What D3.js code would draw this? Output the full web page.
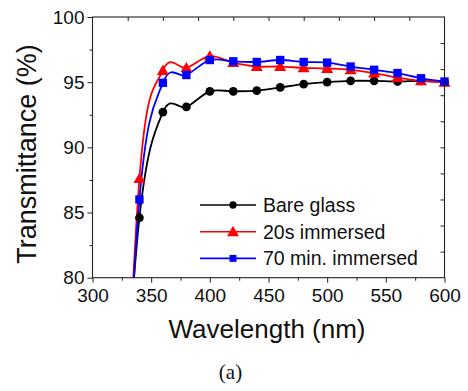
<!DOCTYPE html>
<html>
<head>
<meta charset="utf-8">
<script src="https://cdn.jsdelivr.net/npm/d3@7"></script>
<style>
  body { margin: 0; background: #fff; }
  text { font-family: "Liberation Sans", Arial, sans-serif; fill: #111; }
</style>
</head>
<body>
<div id="main"></div>
<script>
// wavelength (nm); 320 is an off-chart point that only shapes the rising edge
const wavelengths = [320, 340, 360, 380, 400, 420, 440, 460, 480, 500, 520, 540, 560, 580, 600];
const bareGlass  = [59.5, 84.6, 92.7, 93.1, 94.3, 94.3, 94.35, 94.6, 94.85, 95.0, 95.1, 95.1, 95.05, 95.1, 95.0];
const immersed20s = [50.0, 87.6, 95.9, 96.1, 97.0, 96.5, 96.2, 96.2, 96.1, 96.05, 95.95, 95.7, 95.35, 95.1, 95.0];
const immersed70m = [53.3, 86.0, 94.95, 95.55, 96.7, 96.6, 96.55, 96.7, 96.55, 96.5, 96.2, 95.95, 95.7, 95.3, 95.05];

const seriesNames = ["Bare glass", "20s immersed", "70 min. immersed"];
const xTicks = [300, 350, 400, 450, 500, 550, 600];
const yTicks = [80, 85, 90, 95, 100];

const config = {width: 468, height: 391, left: 92.5, right: 23.5, top: 17, bottom: 113.3};
const plotW = config.width - config.left - config.right;
const plotH = config.height - config.top - config.bottom;

const series = [
  {name: seriesNames[0], values: bareGlass, color: "#000000", shape: "circle"},
  {name: seriesNames[1], values: immersed20s, color: "#ff0000", shape: "triangle"},
  {name: seriesNames[2], values: immersed70m, color: "#0000ff", shape: "square"}
];

const svg = d3.select("#main").append("svg")
  .attr("width", config.width)
  .attr("height", config.height);

const g = svg.append("g")
  .attr("transform", `translate(${config.left},${config.top})`);

const xScale = d3.scaleLinear().domain([300, 600]).range([0, plotW]);
const yScale = d3.scaleLinear().domain([80, 100]).range([plotH, 0]);

g.append("clipPath").attr("id", "plotClip")
  .append("rect").attr("width", plotW).attr("height", plotH);

function markerPath(shape, size) {
  if (shape === "circle") return d3.symbol(d3.symbolCircle, size)();
  if (shape === "square") return d3.symbol(d3.symbolSquare, size)();
  return d3.symbol(d3.symbolTriangle, size)();
}

const line = d3.line()
  .x((d, i) => xScale(wavelengths[i]))
  .y(d => yScale(d))
  .curve(d3.curveCardinal.tension(0));

const plot = g.append("g").attr("clip-path", "url(#plotClip)");

series.forEach(s => {
  plot.append("path")
    .datum(s.values)
    .attr("fill", "none")
    .attr("stroke", s.color)
    .attr("stroke-width", 1.8)
    .attr("d", line);
});

series.forEach(s => {
  const pts = s.values.map((v, i) => ({x: wavelengths[i], y: v})).filter(d => d.x >= 340);
  const size = s.shape === "circle" ? 60 : (s.shape === "square" ? 70 : 62);
  g.append("g").selectAll("path")
    .data(pts)
    .join("path")
    .attr("transform", d => `translate(${xScale(d.x)},${yScale(d.y) + (s.shape === "triangle" ? 1 : 0)})`)
    .attr("d", markerPath(s.shape, size))
    .attr("fill", s.color);
});

// frame and ticks
const axisColor = "#222";
g.append("rect")
  .attr("width", plotW).attr("height", plotH)
  .attr("fill", "none").attr("stroke", axisColor).attr("stroke-width", 1.1);

const bottomAxis = d3.axisBottom(xScale).tickValues(xTicks).tickSize(5).tickPadding(6);
const bottomMinor = d3.axisBottom(xScale).tickValues(d3.range(325, 600, 50)).tickSize(3).tickFormat("");
const leftAxis = d3.axisLeft(yScale).tickValues(yTicks).tickSize(5).tickPadding(3);
const leftMinor = d3.axisLeft(yScale).tickValues(d3.range(82.5, 100, 5)).tickSize(3).tickFormat("");
const topAxis = d3.axisTop(xScale).tickValues(d3.range(330, 600, 30)).tickSize(-4).tickFormat("");
const rightAxis = d3.axisRight(yScale).tickValues(d3.range(82, 100, 2)).tickSize(-4).tickFormat("");

function styleAxis(sel) {
  sel.select(".domain").remove();
  sel.selectAll("line").attr("stroke", axisColor).attr("stroke-width", 1);
  sel.selectAll("text")
    .attr("fill", "#111")
    .style("font-family", "'Liberation Sans', Arial, sans-serif")
    .style("font-size", "19px");
}

g.append("g").attr("transform", `translate(0,${plotH})`).call(bottomAxis).call(styleAxis);
g.append("g").attr("transform", `translate(0,${plotH})`).call(bottomMinor).call(styleAxis);
g.append("g").call(leftAxis).call(styleAxis);
g.append("g").call(leftMinor).call(styleAxis);
g.append("g").call(topAxis).call(styleAxis);
g.append("g").attr("transform", `translate(${plotW},0)`).call(rightAxis).call(styleAxis);

// axis titles
svg.append("text")
  .attr("x", 267).attr("y", 338)
  .attr("text-anchor", "middle")
  .style("font-size", "26px")
  .text("Wavelength (nm)");

svg.append("text")
  .attr("transform", "translate(36,154) rotate(-90)")
  .attr("text-anchor", "middle")
  .style("font-size", "27px")
  .text("Transmittance (%)");

svg.append("text")
  .attr("x", 230.5).attr("y", 379)
  .attr("text-anchor", "middle")
  .style("font-family", "'Liberation Serif', 'Times New Roman', serif")
  .style("font-size", "21px")
  .text("(a)");

// legend
const legend = svg.append("g");
series.forEach((s, i) => {
  const y = 205 + i * 26.7;
  legend.append("line")
    .attr("x1", 200).attr("x2", 256).attr("y1", y).attr("y2", y)
    .attr("stroke", s.color).attr("stroke-width", 1.6);
  const size = s.shape === "circle" ? 42 : (s.shape === "square" ? 48 : 62);
  legend.append("path")
    .attr("transform", `translate(233,${y + (s.shape === "triangle" ? 1 : 0)})`)
    .attr("d", markerPath(s.shape, size))
    .attr("fill", s.color);
  legend.append("text")
    .attr("x", 263).attr("y", y + 7)
    .style("font-size", "19.5px")
    .text(s.name);
});
</script>
</body>
</html>
